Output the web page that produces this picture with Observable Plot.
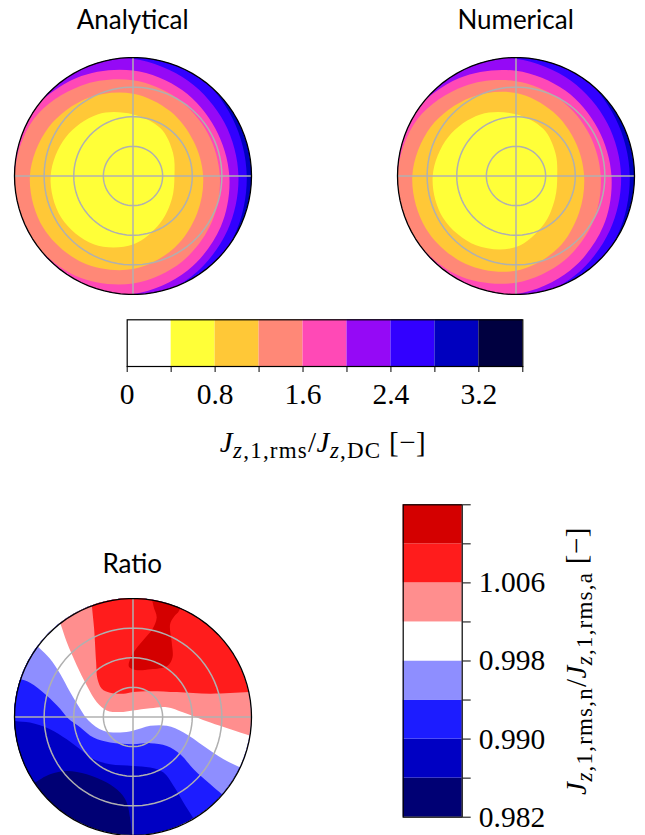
<!DOCTYPE html>
<html>
<head>
<meta charset="utf-8">
<script src="https://cdn.jsdelivr.net/npm/d3@7"></script>
<script src="https://cdn.jsdelivr.net/npm/@observablehq/plot@0.6"></script>
<style>
  html,body{margin:0;padding:0;background:#fff;}
  #root{position:relative;width:645px;height:835px;overflow:hidden;background:#fff;}
  .pos{position:absolute;}
  .title{font-family:Lato,"Open Sans",sans-serif;font-size:26px;line-height:26px;text-align:center;width:240px;color:#000;white-space:nowrap;}
  .mathlab{font-family:"Liberation Serif",serif;font-size:29px;line-height:29px;white-space:nowrap;color:#000;letter-spacing:0.5px;}
  .sb{font-size:23px;position:relative;top:6px;letter-spacing:1.2px;}
</style>
</head>
<body>
<div id="root"></div>
<script>
// ---------------- data ----------------
const angles = [0,30,60,90,120,150,180,210,240,270,300,330];
const gridRadii = [0.25, 0.5, 0.75];

// top colour bar (J_rms / J_DC)
const jLevels = [0,0.4,0.8,1.2,1.6,2.0,2.4,2.8,3.2,3.6];
const jColors = ["#ffffff","#ffff38","#ffc837","#ff8877","#ff49b6","#9509f6","#3200ff","#0000bf","#000040"];
const jTicks = [0,0.8,1.6,2.4,3.2];

// contour boundaries of the two top discs: level and radius at each angle
const jBoundaryLevels = [3.2,2.8,2.4,2.0,1.6,1.2,0.8];
const analyticalRadii = [
  [1.4,1.4,1.4,1.4,1.4,1.4,1.4,1.4,1.4,1.4,1.4,1.4],
  [0.96,0.97,1.02,1.07,1.143,1.219,1.26,1.25,1.2,1.12,1.05,0.99],
  [0.89,0.893,0.928,0.99,1.075,1.153,1.197,1.193,1.141,1.06,0.982,0.92],
  [0.813,0.802,0.835,0.89,0.955,1.02,1.073,1.087,1.058,0.996,0.921,0.855],
  [0.733,0.727,0.753,0.807,0.879,0.965,0.999,1.007,0.972,0.907,0.832,0.77],
  [0.592,0.589,0.63,0.695,0.76,0.822,0.87,0.874,0.845,0.785,0.70,0.626],
  [0.35,0.39,0.465,0.52,0.60,0.655,0.695,0.70,0.665,0.578,0.458,0.38]
];
const numericalRadii = [
  [1.4,1.4,1.4,1.4,1.4,1.4,1.4,1.4,1.4,1.4,1.4,1.4],
  [0.96,0.97,1.02,1.07,1.14,1.22,1.26,1.25,1.2,1.12,1.045,0.99],
  [0.887,0.89,0.928,0.99,1.075,1.15,1.2,1.19,1.14,1.06,0.978,0.915],
  [0.806,0.798,0.832,0.888,0.955,1.02,1.073,1.087,1.058,0.995,0.918,0.85],
  [0.715,0.712,0.745,0.80,0.875,0.96,0.999,1.005,0.97,0.90,0.82,0.755],
  [0.575,0.578,0.625,0.70,0.765,0.83,0.875,0.88,0.855,0.80,0.705,0.615],
  [0.348,0.385,0.46,0.522,0.60,0.66,0.703,0.71,0.675,0.60,0.47,0.38]
];

// ratio colour bar
const rLevels = [0.982,0.986,0.990,0.994,0.998,1.002,1.006,1.010,1.014];
const rColors = ["#000074","#0000c3","#1c1cff","#8e8eff","#ffffff","#ff8e8e","#ff1c1c","#d40000"];
const rTicks = [0.982,0.990,0.998,1.006];

// ratio disc contour lines (x, y in disc radii); region above each line is >= level
const ratioBase = [[-1.2,-1.5],[1.2,-1.5]];
const ratio0986 = [[-1.2,-0.76],[-0.85,-0.572],[-0.696,-0.487],[-0.555,-0.459],[-0.386,-0.487],[-0.217,-0.558],[-0.104,-0.642],[-0.048,-0.727],[-0.019,-0.868],[-0.005,-0.995],[0.0,-1.1],[0.2,-1.4],[1.2,-1.5]];
const ratio0990 = [[-1.2,0.0],[-0.992,-0.037],[-0.865,-0.051],[-0.696,-0.107],[-0.555,-0.192],[-0.442,-0.276],[-0.329,-0.361],[-0.189,-0.403],[0.003,-0.417],[0.149,-0.431],[0.262,-0.473],[0.347,-0.586],[0.431,-0.727],[0.502,-0.84],[0.58,-0.98],[0.7,-1.2],[1.2,-1.4]];
const ratio0994 = [[-1.2,0.36],[-0.963,0.318],[-0.865,0.285],[-0.724,0.178],[-0.611,0.065],[-0.54,-0.02],[-0.442,-0.09],[-0.329,-0.178],[-0.189,-0.22],[0.003,-0.234],[0.149,-0.225],[0.29,-0.248],[0.403,-0.318],[0.516,-0.445],[0.657,-0.572],[0.755,-0.657],[0.85,-0.74],[1.2,-1.0]];
const ratio0998 = [[-1.2,1.05],[-0.9,0.69],[-0.794,0.586],[-0.696,0.487],[-0.611,0.361],[-0.527,0.206],[-0.442,0.065],[-0.372,-0.034],[-0.245,-0.121],[-0.104,-0.135],[0.003,-0.121],[0.149,-0.079],[0.29,-0.079],[0.431,-0.135],[0.6,-0.248],[0.769,-0.361],[0.91,-0.431],[1.05,-0.5],[1.2,-0.55]];
const ratio1002 = [[-0.8,1.2],[-0.66,0.9],[-0.605,0.775],[-0.555,0.628],[-0.47,0.431],[-0.386,0.262],[-0.301,0.121],[-0.217,0.051],[-0.104,0.037],[0.003,0.051],[0.149,0.07],[0.29,0.079],[0.431,0.034],[0.657,-0.051],[0.995,-0.163],[1.2,-0.23]];
const ratio1006 = [[-0.36,1.3],[-0.35,1.05],[-0.343,0.938],[-0.324,0.741],[-0.307,0.459],[-0.296,0.318],[-0.259,0.234],[-0.189,0.2],[-0.076,0.192],[0.003,0.206],[0.149,0.214],[0.375,0.206],[0.657,0.192],[0.981,0.206],[1.2,0.21]];
const ratioIsland1010 = [[0.163,1.079],[0.172,0.938],[0.2,0.84],[0.163,0.741],[0.093,0.657],[0.023,0.572],[-0.025,0.487],[-0.034,0.425],[0.023,0.397],[0.149,0.403],[0.29,0.431],[0.333,0.502],[0.327,0.628],[0.313,0.783],[0.347,0.848],[0.389,0.896],[0.403,1.079]];

// ---------------- helpers ----------------
const root = document.getElementById("root");
const SIZE = 245, MARGIN = 4;
const rad = Math.PI / 180;
const SERIF = "Liberation Serif";
let clipId = 0;

function place(el, left, top, w, h) {
  const d = document.createElement("div");
  d.className = "pos";
  d.style.left = left + "px"; d.style.top = top + "px";
  if (w) d.style.width = w + "px";
  if (h) d.style.height = h + "px";
  d.appendChild(el);
  root.appendChild(d);
  return d;
}
function htmlDiv(cls, html, left, top, extra) {
  const d = document.createElement("div");
  d.className = "pos " + cls;
  d.innerHTML = html;
  d.style.left = left + "px"; d.style.top = top + "px";
  if (extra) Object.assign(d.style, extra);
  root.appendChild(d);
  return d;
}
const circlePts = r => d3.range(0, 360, 4).map(a => ({x: r * Math.cos(a * rad), y: r * Math.sin(a * rad)}));
const midOf = (levels, i) => (levels[i] + levels[i + 1]) / 2;

function discPlot(bandMarks, color) {
  const marks = [
    ...bandMarks,
    ...gridRadii.map(r => Plot.line(circlePts(r), {x: "x", y: "y", stroke: "#b0b0b0", strokeWidth: 1.5, curve: "linear-closed"})),
    Plot.ruleX([0], {y1: -1, y2: 1, stroke: "#b0b0b0", strokeWidth: 1.5}),
    Plot.ruleY([0], {x1: -1, x2: 1, stroke: "#b0b0b0", strokeWidth: 1.5}),
    Plot.line(circlePts(1), {x: "x", y: "y", stroke: "black", strokeWidth: 1.3, curve: "linear-closed"})
  ];
  const svg = Plot.plot({
    width: SIZE, height: SIZE, margin: MARGIN,
    x: {domain: [-1, 1], axis: null},
    y: {domain: [-1, 1], axis: null},
    color,
    style: {background: "transparent"},
    marks
  });
  // clip all marks but the outline to the disc
  const sx = svg.scale("x"), sy = svg.scale("y");
  const cx = sx.apply(0), cy = sy.apply(0), rr = Math.abs(sx.apply(1) - cx);
  const ns = "http://www.w3.org/2000/svg";
  const id = "discclip" + (clipId++);
  const defs = document.createElementNS(ns, "defs");
  const cp = document.createElementNS(ns, "clipPath");
  cp.setAttribute("id", id);
  const c = document.createElementNS(ns, "circle");
  c.setAttribute("cx", cx); c.setAttribute("cy", cy); c.setAttribute("r", rr);
  cp.appendChild(c); defs.appendChild(cp);
  svg.insertBefore(defs, svg.firstChild);
  const gs = Array.from(svg.children).filter(n => n.tagName.toLowerCase() === "g");
  gs.slice(0, gs.length - 1).forEach(g => g.setAttribute("clip-path", `url(#${id})`));
  return svg;
}

const jColor = {type: "threshold", domain: jLevels.slice(1, -1), range: jColors};
const rColor = {type: "threshold", domain: rLevels.slice(1, -1), range: rColors};

function topBands(radii) {
  return jBoundaryLevels.map((L, k) => {
    const i = jLevels.indexOf(L);
    const v = midOf(jLevels, i - 1);
    const pts = angles.map((a, j) => ({x: radii[k][j] * Math.cos(a * rad), y: radii[k][j] * Math.sin(a * rad), v}));
    return Plot.line(pts, {x: "x", y: "y", fill: "v", stroke: "none", curve: "catmull-rom-closed"});
  });
}

// ---------------- top discs ----------------
const cA = {x: 132.7, y: 175}, cN = {x: 515.6, y: 175}, cR = {x: 132.3, y: 716};
place(discPlot(topBands(analyticalRadii), jColor), cA.x - SIZE / 2, cA.y - SIZE / 2, SIZE, SIZE);
place(discPlot(topBands(numericalRadii), jColor), cN.x - SIZE / 2, cN.y - SIZE / 2, SIZE, SIZE);

// ---------------- ratio disc ----------------
const ratioLines = [ratioBase, ratio0986, ratio0990, ratio0994, ratio0998, ratio1002, ratio1006];
const ratioBands = ratioLines.map((line, k) => {
  const v = midOf(rLevels, k);
  const pts = line.map(([x, y]) => ({x, y, v}));
  return Plot.areaY(pts, {x: "x", y1: "y", y2: 2, fill: "v", curve: k === 0 ? "linear" : "catmull-rom"});
});
const islandPts = ratioIsland1010.map(([x, y]) => ({x, y, v: midOf(rLevels, 7)}));
ratioBands.push(Plot.line(islandPts, {x: "x", y: "y", fill: "v", stroke: "none", curve: "catmull-rom-closed"}));
place(discPlot(ratioBands, rColor), cR.x - SIZE / 2, cR.y - SIZE / 2, SIZE, SIZE);

// ---------------- horizontal colour bar ----------------
const jBands = jLevels.slice(0, -1).map((lo, i) => ({lo, hi: jLevels[i + 1], mid: midOf(jLevels, i)}));
const hbar = Plot.plot({
  width: 450, height: 106,
  marginLeft: 26.7, marginRight: 27.7, marginTop: 9.3, marginBottom: 50,
  x: {domain: [0, 3.6], ticks: jLevels, tickFormat: () => "", tickSize: 6, label: null},
  y: {domain: [0, 1], axis: null},
  color: jColor,
  style: {color: "black", background: "transparent", overflow: "visible"},
  marks: [
    Plot.rect(jBands, {x1: "lo", x2: "hi", y1: 0, y2: 1, fill: "mid"}),
    Plot.frame({stroke: "black", strokeWidth: 1.2}),
    Plot.text(jTicks, {x: d => d, y: 0, dy: 28, text: d => String(d), fontFamily: SERIF, fontSize: 29.5, fill: "black"})
  ]
});
place(hbar, 100, 310, 450, 106);
htmlDiv("mathlab",
  '<i>J</i><span class="sb"><i>z</i>,1,rms</span>/<i>J</i><span class="sb"><i>z</i>,DC</span>&nbsp;[&minus;]',
  123, 427.6, {width: "400px", textAlign: "center"});

// ---------------- vertical colour bar ----------------
const rBands = rLevels.slice(0, -1).map((lo, i) => ({lo, hi: rLevels[i + 1], mid: midOf(rLevels, i)}));
const vbar = Plot.plot({
  width: 170, height: 346.7,
  marginLeft: 7.7, marginRight: 103.3, marginTop: 14.3, marginBottom: 20,
  x: {domain: [0, 1], axis: null},
  y: {domain: [0.982, 1.014], axis: "right", ticks: rLevels, tickFormat: () => "", tickSize: 8, label: null},
  color: rColor,
  style: {color: "black", background: "transparent", overflow: "visible"},
  marks: [
    Plot.rect(rBands, {x1: 0, x2: 1, y1: "lo", y2: "hi", fill: "mid"}),
    Plot.frame({stroke: "black", strokeWidth: 1.2}),
    Plot.text(rTicks, {x: 1, y: d => d, dx: 16.6, textAnchor: "start", text: d => d.toFixed(3), fontFamily: SERIF, fontSize: 29.5, fill: "black"})
  ]
});
place(vbar, 395, 490, 170, 346.7);
htmlDiv("mathlab",
  '<i>J</i><span class="sb"><i>z</i>,1,rms,n</span>/<i>J</i><span class="sb"><i>z</i>,1,rms,a</span>&nbsp;[&minus;]',
  577, 661, {transform: "translate(-50%,-50%) rotate(-90deg)"});

// ---------------- titles ----------------
htmlDiv("title", "Analytical", cA.x - 120, 6.2);
htmlDiv("title", "Numerical", cN.x - 120, 6.2);
htmlDiv("title", "Ratio", cR.x - 120, 550.2);
</script>
</body>
</html>
